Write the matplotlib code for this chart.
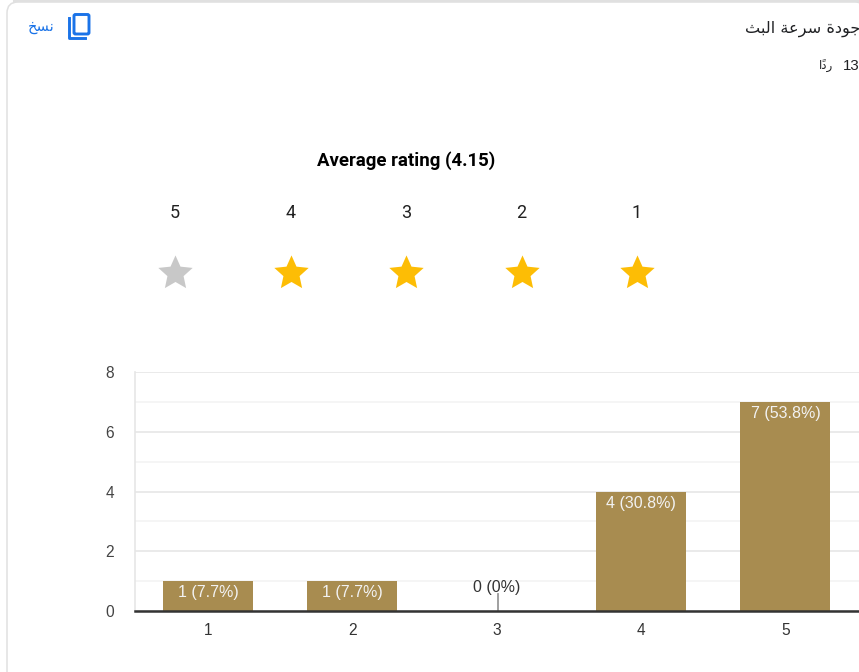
#!/bin/python

# Rating summary card: stars row on top, count bars below.
# matplotlib has no Arabic shaping, so the Arabic strings are written with
# presentation forms in visual (left to right) order.

import numpy as np
import matplotlib
matplotlib.use('Agg')
import matplotlib.pyplot as plt
from matplotlib.patches import FancyBboxPatch
from matplotlib.path import Path

W, H = 859, 672

question = '\ufe9f\ufeee\ufea9\ufe93 \ufeb3\ufeae\ufecb\ufe94 \ufe8d\ufedf\ufe92\ufe9a'[::-1]
responses = '\ufead\ufea9\u064b\ufe8d'[::-1]
copy_label = '\ufee7\ufeb4\ufea6'[::-1]
n_responses = '13'

rating_title = 'Average rating (4.15)'
star_labels = ['5', '4', '3', '2', '1']
star_filled = [False, True, True, True, True]

categories = [1, 2, 3, 4, 5]
counts = [1, 1, 0, 4, 7]
bar_labels = ['1 (7.7%)', '1 (7.7%)', '0 (0%)', '4 (30.8%)', '7 (53.8%)']
y_ticks = [0, 2, 4, 6, 8]
y_minor = [1, 3, 5, 7]

BLUE = '#1a73e8'
BAR = '#a88c50'
SANS = ['Liberation Sans', 'DejaVu Sans']

plt.rcParams['font.family'] = SANS

# matplotlib's '*' is too thin, this one has the fatter material-icon shape
angles = np.pi / 2 + np.arange(10) * np.pi / 5
radii = np.where(np.arange(10) % 2 == 0, 1.0, 0.47)
star_verts = np.column_stack([radii * np.cos(angles), radii * np.sin(angles)])
star_path = Path(np.vstack([star_verts, star_verts[:1]]), closed=True)

fig = plt.figure(figsize=(W / 100, H / 100), dpi=100)

# overlay in pixel coordinates for the card and everything above the chart
bg = fig.add_axes([0, 0, 1, 1], zorder=0)
bg.set_xlim(0, W)
bg.set_ylim(H, 0)
bg.axis('off')

bg.add_patch(FancyBboxPatch((7, 2), W, H + 40, boxstyle='round,pad=0,rounding_size=11',
                            fc='white', ec='#e0e0e0', lw=1.1))
bg.plot([14, W], [1, 1], color='#e0e0e0', lw=1.5)

# copy icon
bg.add_patch(FancyBboxPatch((74, 14.5), 15, 19.5, boxstyle='round,pad=0,rounding_size=1.5',
                            fc='none', ec=BLUE, lw=2.1))
bg.plot([69, 69, 85], [18, 38, 38], color=BLUE, lw=2.1, solid_joinstyle='round')
bg.text(41, 27, copy_label, color=BLUE, fontsize=10.5, ha='center', va='center',
        family=['DejaVu Sans'])

bg.text(860, 29, question, color='#202124', fontsize=11.6, ha='right', va='center',
        family=['DejaVu Sans'])
bg.text(859, 66, n_responses, color='#202124', fontsize=10.8, ha='right', va='center')
bg.text(833, 66, responses, color='#202124', fontsize=8.5, ha='right', va='center',
        family=['DejaVu Sans'])

bg.text(406, 161, rating_title, color='black', fontsize=13.4, fontweight='bold',
        ha='center', va='center', family=['Roboto', 'DejaVu Sans'])

for i, (lab, filled) in enumerate(zip(star_labels, star_filled)):
    sx = 175 + i * 115.5
    bg.text(sx, 213, lab, color='#212121', fontsize=13, ha='center', va='center',
            family=['Roboto', 'DejaVu Sans'])
    bg.plot([sx], [273], marker=star_path, ms=26, mew=0,
            color='#fdbd05' if filled else '#c8c8c8')

# chart: left edge 135px, right runs off the picture, 0 at 611px, 8 at 372px
ax = fig.add_axes([135 / W, 1 - 611 / H, (W - 135) / W, 239 / H], zorder=1)
ax.patch.set_alpha(0)
ax.set_xlim(0.494, 5.51)
ax.set_ylim(0, 8)

ax.bar(categories, counts, width=0.624, color=BAR, zorder=3)

ax.set_yticks(y_ticks)
ax.set_yticks(y_minor, minor=True)
ax.set_xticks(categories)
ax.grid(True, axis='y', which='major', color='#e6e6e6', lw=1.2, zorder=1)
ax.grid(True, axis='y', which='minor', color='#f3f3f3', lw=1.1, zorder=1)
ax.tick_params(axis='both', which='both', length=0)
ax.tick_params(axis='y', pad=15, labelsize=11.2, labelcolor='#444444')
ax.tick_params(axis='x', pad=8.5, labelsize=11.2, labelcolor='#333333')

for side in ['top', 'right']:
    ax.spines[side].set_visible(False)
ax.spines['left'].set_color('#e6e6e6')
ax.spines['left'].set_linewidth(1.2)
ax.spines['bottom'].set_color('#333333')
ax.spines['bottom'].set_linewidth(1.8)
ax.spines['bottom'].set_zorder(5)

for c, v, lab in zip(categories, counts, bar_labels):
    if v > 0:
        ax.annotate(lab, (c, v), xytext=(0, -8.5), textcoords='offset points',
                    color='#f2f2f2', fontsize=11.5, ha='center', va='center', zorder=4)
    else:
        ax.plot([c + 0.006, c + 0.006], [0, 0.57], color='#999999', lw=1.3, zorder=4)
        ax.annotate(lab, (c, 0.8), color='#333333', fontsize=11.5, ha='center', va='center',
                    zorder=4)

fig.savefig('out.png', dpi=100)
